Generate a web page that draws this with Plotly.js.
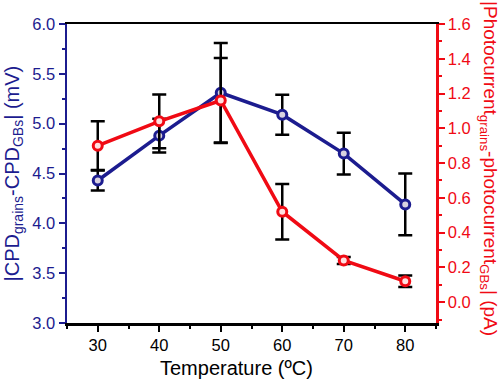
<!DOCTYPE html>
<html>
<head>
<meta charset="utf-8">
<script src="https://cdn.plot.ly/plotly-3.0.1.min.js"></script>
<style>html,body{margin:0;padding:0;background:#fff;}#chart{width:500px;height:380px;}</style>
</head>
<body>
<div id="chart"></div>
<script>
var temperature = [30, 40, 50, 60, 70, 80];
var cpdDiff = [4.43, 4.88, 5.31, 5.09, 4.70, 4.19];
var cpdErr = [0.10, 0.17, 0.50, 0.20, 0.21, 0.31];
var photoDiff = [0.90, 1.04, 1.16, 0.52, 0.24, 0.12];
var photoErr = [0.14, 0.155, 0.245, 0.16, 0.02, 0.033];
var xTicks = [30, 40, 50, 60, 70, 80];

var navy = '#1c1c8f';
var red = '#f00a14';
var font = 'Liberation Sans, Arial, sans-serif';

var traces = [
  {
    x: temperature, y: cpdDiff, type: 'scatter', mode: 'lines+markers',
    line: {color: navy, width: 3.5},
    marker: {symbol: 'circle', size: 9, color: '#d9d2e0', line: {color: navy, width: 3}},
    error_y: {type: 'data', array: cpdErr, visible: true, color: '#000', thickness: 2.5, width: 7},
    yaxis: 'y', showlegend: false
  },
  {
    x: temperature, y: photoDiff, type: 'scatter', mode: 'lines+markers',
    line: {color: red, width: 3.5},
    marker: {symbol: 'circle', size: 9, color: '#ffe0e0', line: {color: red, width: 3}},
    error_y: {type: 'data', array: photoErr, visible: true, color: '#000', thickness: 2.5, width: 7},
    yaxis: 'y2', showlegend: false
  }
];

var layout = {
  width: 500, height: 380,
  margin: {l: 67, r: 64, t: 24, b: 57},
  paper_bgcolor: '#fff', plot_bgcolor: '#fff',
  font: {family: font},
  xaxis: {
    range: [25, 85], tickvals: xTicks, ticktext: xTicks.map(String),
    showgrid: false, zeroline: false,
    showline: true, linecolor: '#000', linewidth: 2.5, mirror: true,
    ticks: 'outside', ticklen: 6, tickwidth: 2, tickcolor: '#000',
    minor: {dtick: 5, tick0: 25, ticklen: 3, tickwidth: 2, tickcolor: '#000', showgrid: false},
    tickfont: {size: 16.5, color: '#000', family: font}
  },
  yaxis: {
    range: [3.0, 6.0], dtick: 0.5, tick0: 3, tickformat: '.1f',
    showgrid: false, zeroline: false,
    showline: true, linecolor: navy, linewidth: 2.5,
    ticks: 'outside', ticklen: 6, tickwidth: 2, tickcolor: navy,
    minor: {dtick: 0.25, ticklen: 3, tickwidth: 2, tickcolor: navy, showgrid: false},
    tickfont: {size: 16.5, color: navy, family: font}
  },
  yaxis2: {
    range: [-0.12, 1.6], dtick: 0.2, tick0: 0, tickformat: '.1f',
    overlaying: 'y', side: 'right',
    showgrid: false, zeroline: false,
    showline: true, linecolor: red, linewidth: 2.5,
    ticks: 'outside', ticklen: 6, tickwidth: 2, tickcolor: red,
    minor: {dtick: 0.1, ticklen: 3, tickwidth: 2, tickcolor: red, showgrid: false},
    tickfont: {size: 16.5, color: red, family: font}
  },
  annotations: [
    {
      text: 'Temperature (ºC)',
      xref: 'paper', yref: 'paper', x: 0.4607, y: 0, yshift: -45,
      xanchor: 'center', yanchor: 'middle', showarrow: false,
      font: {size: 20, color: '#000', family: font}
    },
    {
      text: '|CPD<sub>grains</sub>-CPD<sub>GBs</sub>| (mV)',
      xref: 'paper', yref: 'paper', x: 0, y: 0.5, xshift: -54,
      xanchor: 'center', yanchor: 'middle', textangle: -90, showarrow: false,
      font: {size: 20, color: navy, family: font}
    },
    {
      text: '|Photocurrent<sub>grains</sub>-photocurrent<sub>GBs</sub>| (pA)',
      xref: 'paper', yref: 'paper', x: 1, y: 0.518, xshift: 53,
      xanchor: 'center', yanchor: 'middle', textangle: 90, showarrow: false,
      font: {size: 19, color: red, family: font}
    }
  ]
};

Plotly.newPlot('chart', traces, layout, {displayModeBar: false, staticPlot: true});
</script>
</body>
</html>
